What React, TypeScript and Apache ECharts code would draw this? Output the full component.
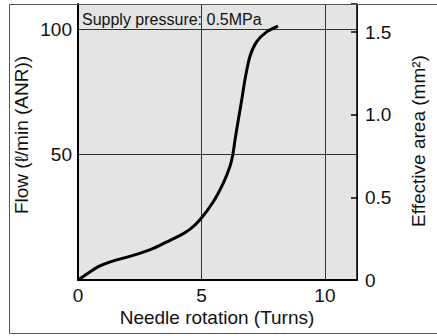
import React, { useEffect, useRef } from "react";
import * as echarts from "echarts";

const turns = [0, 0.45, 0.89, 1.5, 2.23, 3.0, 3.6, 4.1, 4.53, 4.94, 5.48, 5.88, 6.15, 6.26, 6.36, 6.49, 6.63, 6.76, 6.96, 7.23, 7.64, 8.1];
const flow = [0, 3.0, 5.6, 7.8, 9.8, 12.4, 15.2, 17.6, 20.2, 24.0, 31.2, 38.5, 45.1, 49.4, 55.8, 63.7, 71.7, 79.7, 89.0, 94.9, 98.9, 101.2];
const xTicks = [0, 5, 10];
const flowTicks = [50, 100];
const areaTicks = [0, 0.5, 1.0, 1.5];

const FONT = "'Liberation Sans', Arial, Helvetica, sans-serif";

export default function App() {
  const ref = useRef<HTMLDivElement>(null);
  useEffect(() => {
    if (!ref.current) return;
    const chart = echarts.init(ref.current, null, { renderer: "svg" });
    chart.setOption({
      animation: false,
      textStyle: { fontFamily: FONT },
      grid: {
        left: 78,
        top: 4,
        width: 279,
        height: 276,
        show: true,
        backgroundColor: "#e4e4e4",
        borderWidth: 0,
      },
      xAxis: {
        type: "value",
        min: 0,
        max: 11.3,
        interval: 5,
        axisLine: { show: true, onZero: false, lineStyle: { color: "#000", width: 2 } },
        axisTick: { show: false },
        splitLine: { show: true, lineStyle: { color: "#333", width: 1 } },
        axisLabel: {
          fontSize: 19,
          color: "#111",
          fontFamily: FONT,
          margin: 6,
          customValues: xTicks,
        },
      },
      yAxis: [
        {
          type: "value",
          min: 0,
          max: 110,
          interval: 50,
          position: "left",
          axisLine: { show: true, onZero: false, lineStyle: { color: "#000", width: 2 } },
          axisTick: { show: false },
          splitLine: { show: true, lineStyle: { color: "#333", width: 1 } },
          axisLabel: {
            fontSize: 19,
            color: "#111",
            fontFamily: FONT,
            margin: 6,
            formatter: (v: number) => (flowTicks.includes(v) ? String(v) : ""),
          },
        },
        {
          type: "value",
          min: 0,
          max: 1.67,
          interval: 0.5,
          position: "right",
          axisLine: { show: true, onZero: false, lineStyle: { color: "#000", width: 1.5 } },
          axisTick: { show: true, inside: true, length: 6, lineStyle: { color: "#000", width: 1.5 } },
          splitLine: { show: false },
          axisLabel: {
            fontSize: 19,
            color: "#111",
            fontFamily: FONT,
            margin: 8,
            formatter: (v: number) => {
              const t = areaTicks.find((a) => Math.abs(a - v) < 1e-6);
              if (t === undefined) return "";
              return t === 0 ? "0" : t.toFixed(1);
            },
          },
        },
      ],
      series: [
        {
          type: "line",
          yAxisIndex: 0,
          data: turns.map((t, i) => [t, flow[i]]),
          smooth: 0.3,
          symbol: "none",
          lineStyle: { color: "#000", width: 3 },
        },
      ],
      graphic: [
        {
          type: "rect",
          shape: { x: 9.5, y: 4.5, width: 440, height: 329 },
          style: { fill: "none", stroke: "#555", lineWidth: 1 },
          z: 100,
        },
        {
          type: "text",
          x: 82,
          y: 27,
          style: {
            text: "Supply pressure: 0.5MPa",
            fontSize: 16,
            fontFamily: FONT,
            fill: "#111",
            align: "left",
            verticalAlign: "bottom",
          },
          z: 100,
        },
        {
          type: "text",
          x: 217,
          y: 317,
          style: {
            text: "Needle rotation (Turns)",
            fontSize: 19,
            fontFamily: FONT,
            fill: "#111",
            align: "center",
            verticalAlign: "middle",
          },
        },
        {
          type: "text",
          x: 21,
          y: 135,
          rotation: Math.PI / 2,
          style: {
            text: "Flow (ℓ/min (ANR))",
            fontSize: 19,
            fontFamily: FONT,
            fill: "#111",
            align: "center",
            verticalAlign: "middle",
          },
        },
        {
          type: "text",
          x: 418,
          y: 141,
          rotation: Math.PI / 2,
          style: {
            text: "Effective area (mm²)",
            fontSize: 19,
            fontFamily: FONT,
            fill: "#111",
            align: "center",
            verticalAlign: "middle",
          },
        },
      ],
    });
    return () => chart.dispose();
  }, []);
  return (
    <div
      ref={ref}
      style={{ position: "fixed", left: 0, top: 0, width: 437, height: 336, background: "#fff" }}
    />
  );
}
